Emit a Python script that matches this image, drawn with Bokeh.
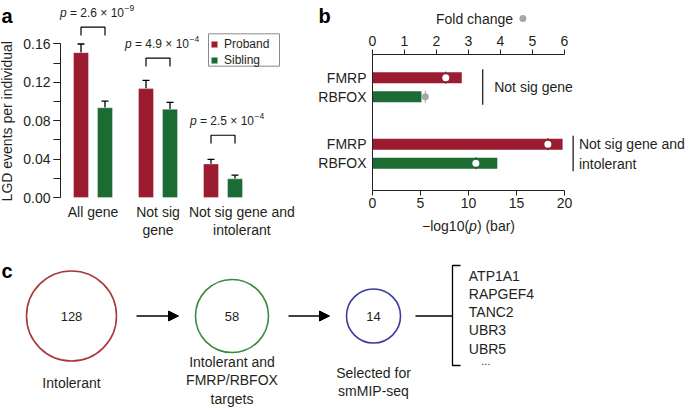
import math
from bokeh.plotting import figure
from bokeh.layouts import column, row
from bokeh.models import (Range1d, LinearAxis, FixedTicker, SingleIntervalTicker,
                          NumeralTickFormatter, ColumnDataSource, Whisker, TeeHead,
                          Label, Legend, LegendItem, Arrow, NormalHead)
from bokeh.embed import file_html
from bokeh.resources import INLINE
from bokeh.core.properties import value

FONT = "Liberation Sans"
INK = "#231f20"
RED = "#9b1c31"
GREEN = "#1b6b33"

# ---------------- data: panel a ----------------
groups_a = ["All gene", "Not sig\ngene", "Not sig gene and\nintolerant"]
proband = [0.151, 0.1135, 0.035]
proband_err = [0.009, 0.0085, 0.0047]
sibling = [0.0935, 0.092, 0.0195]
sibling_err = [0.007, 0.0072, 0.0038]
p_mantissa = ["2.6", "4.9", "2.5"]
p_exponent = ["\u22129", "\u22124", "\u22124"]

# ---------------- data: panel b ----------------
gene_sets = ["Not sig gene", "Not sig gene and\nintolerant"]
targets = ["FMRP", "RBFOX"]
neglog10p = [9.3, 5.1, 19.8, 13.0]      # FMRP, RBFOX per gene set
fold_change = [2.29, 1.65, 5.48, 3.23]

# ---------------- data: panel c ----------------
stage_counts = [128, 58, 14]
stage_captions = ["Intolerant", "Intolerant and\nFMRP/RBFOX\ntargets", "Selected for\nsmMIP-seq"]
selected_genes = ["ATP1A1", "RAPGEF4", "TANC2", "UBR3", "UBR5"]


def base_fig(w, h, xr, yr):
    p = figure(width=w, height=h, output_backend="svg", toolbar_location=None,
               x_range=xr, y_range=yr, x_axis_type=None, y_axis_type=None, min_border=0)
    p.outline_line_color = None
    p.background_fill_color = "white"
    p.border_fill_color = "white"
    return p


def txt(**kw):
    d = dict(text_font=FONT, text_font_size="14px", text_color=INK,
             text_align="center", text_baseline="middle")
    d.update(kw)
    return Label(**d)


# ================= panel a =================
A_W, A_H = 300, 240
AX_X, AX_Y0 = 60, 197          # axis origin inside the figure (px from left / top)
PX_GROUP = 65.0
PX_Y = 959.4
pa = base_fig(A_W, A_H,
              Range1d(-AX_X / PX_GROUP, (A_W - AX_X) / PX_GROUP),
              Range1d(-(A_H - AX_Y0) / PX_Y, AX_Y0 / PX_Y))


def ax_x(px):
    return (px - AX_X) / PX_GROUP


def ax_y(px):
    return (AX_Y0 - px) / PX_Y


dodge = 12 / PX_GROUP
bar_w = 15 / PX_GROUP
xc = [i + 0.5 for i in range(len(groups_a))]
xp = [c - dodge for c in xc]
xs = [c + dodge for c in xc]
r_p = pa.vbar(x=xp, top=proband, width=bar_w, fill_color=RED,
              line_color="white", line_alpha=0.35, line_width=1)
r_s = pa.vbar(x=xs, top=sibling, width=bar_w, fill_color=GREEN,
              line_color="white", line_alpha=0.35, line_width=1)

vals = proband + sibling
errs = proband_err + sibling_err
src_err = ColumnDataSource(dict(x=xp + xs, lo=vals, hi=[v + e for v, e in zip(vals, errs)]))
pa.add_layout(Whisker(base="x", lower="lo", upper="hi", source=src_err, dimension="height",
                      line_color="black", line_width=1.3,
                      upper_head=TeeHead(size=7, line_color="black", line_width=1.3),
                      lower_head=None))

br_top = [0.1775, 0.1453, 0.0649]
leg = 0.0087
pa.multi_line(xs=[[xp[i], xp[i], xs[i], xs[i]] for i in range(3)],
              ys=[[t - leg, t, t, t - leg] for t in br_top],
              line_color="black", line_width=1.2)
ty = [t + 0.0145 for t in br_top]
pa.text(x=xc, y=ty, text=["p"] * 3, x_offset=-33, text_font=value(FONT),
        text_font_style="italic", text_font_size="12px", text_color=INK,
        text_align="left", text_baseline="middle")
pa.text(x=xc, y=ty, text=["= " + m + " \u00d7 10" for m in p_mantissa], x_offset=-23,
        text_font=value(FONT), text_font_size="12px", text_color=INK,
        text_align="left", text_baseline="middle")
pa.text(x=xc, y=ty, text=p_exponent, x_offset=31.5, y_offset=-5, text_font=value(FONT),
        text_font_size="8.5px", text_color=INK, text_align="left", text_baseline="middle")

yax = LinearAxis(fixed_location=0, bounds=(0, 0.1601),
                 ticker=SingleIntervalTicker(interval=0.04, num_minor_ticks=2),
                 formatter=NumeralTickFormatter(format="0.00"),
                 major_tick_out=7, major_tick_in=0, minor_tick_out=7, minor_tick_in=0,
                 major_label_standoff=3, axis_line_color=INK, major_tick_line_color=INK,
                 minor_tick_line_color=INK,
                 major_label_text_font=FONT, major_label_text_font_size="14px",
                 major_label_text_color=INK)
pa.add_layout(yax, "left")

label_pos = [0.5, 1.5, 2.79]
xax = LinearAxis(fixed_location=0, ticker=FixedTicker(ticks=label_pos, minor_ticks=[]),
                 major_label_overrides={p: g for p, g in zip(label_pos, groups_a)},
                 axis_line_color=None, major_tick_line_color=None, minor_tick_line_color=None,
                 major_tick_out=0, major_tick_in=0, major_label_standoff=6,
                 major_label_text_font=FONT, major_label_text_font_size="14px",
                 major_label_text_color=INK, major_label_text_line_height=1.15)
pa.add_layout(xax, "below")

pa.add_layout(txt(x=6, y=0.0795, x_units="screen", y_units="data",
                  text="LGD events per individual", angle=math.pi / 2))
pa.add_layout(txt(x=1, y=A_H - 15, x_units="screen", y_units="screen", text="a",
                  text_align="left", text_baseline="alphabetic", text_font_size="20px",
                  text_font_style="bold", text_color="black"))

# legend frame (drawn as a box) and legend entries
pa.quad(left=[ax_x(208)], right=[ax_x(279)], top=[ax_y(33.3)], bottom=[ax_y(65.7)],
        fill_color="white", line_color="#8a8a8a", line_width=1)
legend = Legend(items=[LegendItem(label="Proband", renderers=[r_p]),
                       LegendItem(label="Sibling", renderers=[r_s])],
                location=(210, A_H - 67), orientation="vertical", padding=3, spacing=2,
                margin=0, glyph_width=8, glyph_height=8, label_height=10, label_width=49,
                label_standoff=6, label_text_font=FONT, label_text_font_size="12px",
                label_text_color=INK, border_line_color=None,
                background_fill_alpha=0)
pa.add_layout(legend)

# ================= panel b =================
B_W, B_H = 385, 240
BX0 = 72                 # x of the -log10(p)=0 line inside the figure
ROW0 = 77.2              # y of the first bar centre inside the figure
PX_P = 9.6
PX_FOLD = 32.0
ROW_PX = 19.0
AXIS_TOP_PX, AXIS_BOT_PX = 53.5, 189.5
GROUP_STRIDE = 3.5
ypos = [g * GROUP_STRIDE + k for g in range(len(gene_sets)) for k in range(len(targets))]


def row_of(px):
    return (px - ROW0) / ROW_PX


pb = base_fig(B_W, B_H,
              Range1d(-BX0 / PX_P, (B_W - BX0) / PX_P),
              Range1d(row_of(B_H), row_of(0)))
pb.extra_x_ranges = {"fold": Range1d(-BX0 / PX_FOLD, (B_W - BX0) / PX_FOLD)}
y_axis_top, y_axis_bot = row_of(AXIS_TOP_PX), row_of(AXIS_BOT_PX)

pb.hbar(y=ypos, left=0, right=neglog10p, height=11 / ROW_PX,
        fill_color=[RED, GREEN] * len(gene_sets), line_color=None)

dot_colors = ["white", "#a6a6a6", "white", "white"]
cap_colors = ["#333333", "#a6a6a6", "#333333", "#333333"]
pb.segment(x0=fold_change, x1=fold_change, y0=[y - 0.32 for y in ypos],
           y1=[y + 0.32 for y in ypos], x_range_name="fold",
           line_color=cap_colors, line_width=1)
pb.scatter(x=fold_change, y=ypos, x_range_name="fold", size=7,
           fill_color=dot_colors, line_color=None)

set_bracket_x = [11.48, 20.9]
set_label_x = [12.68, 21.5]
y_first = [ypos[2 * g] for g in range(len(gene_sets))]
y_last = [ypos[2 * g + 1] for g in range(len(gene_sets))]
pb.segment(x0=set_bracket_x, x1=set_bracket_x, y0=[y - 0.45 for y in y_first],
           y1=[y + 0.43 for y in y_last], line_color=INK, line_width=1.3)
pb.text(x=set_label_x, y=[(a + b) / 2 for a, b in zip(y_first, y_last)], text=gene_sets,
        text_font=value(FONT), text_font_size="14px", text_color=INK,
        text_align="left", text_baseline="middle", text_line_height=1.25)

lax = LinearAxis(fixed_location=0, bounds=(y_axis_top, y_axis_bot),
                 ticker=FixedTicker(ticks=ypos, minor_ticks=[]),
                 major_label_overrides={y: t for y, t in zip(ypos, targets * len(gene_sets))},
                 major_tick_out=0, major_tick_in=0, major_label_standoff=6,
                 axis_line_color=INK, major_label_text_font=FONT,
                 major_label_text_font_size="14px", major_label_text_color=INK)
pb.add_layout(lax, "left")
tax = LinearAxis(x_range_name="fold", fixed_location=y_axis_top, bounds=(0, 6),
                 ticker=SingleIntervalTicker(interval=1, num_minor_ticks=0),
                 major_tick_out=5, major_tick_in=0, major_label_standoff=3,
                 axis_line_color=INK, major_tick_line_color=INK,
                 major_label_text_font=FONT, major_label_text_font_size="14px",
                 major_label_text_color=INK)
pb.add_layout(tax, "above")
bax = LinearAxis(fixed_location=y_axis_bot, bounds=(0, 20),
                 ticker=SingleIntervalTicker(interval=5, num_minor_ticks=0),
                 major_tick_out=5, major_tick_in=0, major_label_standoff=3,
                 axis_line_color=INK, major_tick_line_color=INK,
                 major_label_text_font=FONT, major_label_text_font_size="14px",
                 major_label_text_color=INK)
pb.add_layout(bax, "below")

pb.add_layout(txt(x=174, y=B_H - 18, x_units="screen", y_units="screen", text="Fold change"))
pb.scatter(x=[4.70], y=[row_of(18)], x_range_name="fold", size=7,
           fill_color="#a6a6a6", line_color=None)
pb.add_layout(txt(x=121.5, y=B_H - 225, x_units="screen", y_units="screen",
                  text="\u2212log10(", text_align="left"))
pb.add_layout(txt(x=168.6, y=B_H - 225, x_units="screen", y_units="screen",
                  text="p", text_align="left", text_font_style="italic"))
pb.add_layout(txt(x=176.4, y=B_H - 225, x_units="screen", y_units="screen",
                  text=") (bar)", text_align="left"))
pb.add_layout(txt(x=18, y=B_H - 15, x_units="screen", y_units="screen", text="b",
                  text_align="left", text_baseline="alphabetic", text_font_size="20px",
                  text_font_style="bold", text_color="black"))

# ================= panel c =================
C_W, C_H = 685, 167
pc = base_fig(C_W, C_H, Range1d(0, C_W), Range1d(240 + C_H, 240))

stage_x = [71, 231.5, 373]
stage_y = 315.5
stage_d = [90, 73, 54]
stage_colors = ["#a83a3b", "#3a8a3e", "#3c3c9e"]
caption_y = [382.7, 380.0, 381.5]
pc.ellipse(x=stage_x, y=[stage_y] * 3, width=stage_d, height=stage_d,
           fill_color=None, line_color=stage_colors, line_width=1.6)
pc.text(x=stage_x, y=[stage_y] * 3, text=[str(c) for c in stage_counts],
        text_font=value(FONT), text_font_size="13px", text_color=INK,
        text_align="center", text_baseline="middle")
pc.text(x=stage_x, y=caption_y, text=stage_captions, text_font=value(FONT),
        text_font_size="14px", text_color=INK, text_align="center",
        text_baseline="middle", text_line_height=1.15)

for i in range(len(stage_x) - 1):
    x0 = stage_x[i] + stage_d[i] / 2 + 20
    x1 = stage_x[i + 1] - stage_d[i + 1] / 2 - 17
    pc.add_layout(Arrow(end=NormalHead(size=10, fill_color="black", line_color="black",
                                       line_width=1),
                        x_start=x0, y_start=stage_y, x_end=x1, y_end=stage_y,
                        line_color="black", line_width=1.5))

br_x = 452
gene_x = 468.3
gene_y0 = 275
gene_dy = 18.3
conn_x0 = stage_x[-1] + stage_d[-1] / 2 + 15
pc.multi_line(xs=[[conn_x0, br_x], [br_x + 8, br_x, br_x, br_x + 8]],
              ys=[[stage_y, stage_y], [265, 265, 365, 365]],
              line_color="black", line_width=1.3)
pc.text(x=[gene_x] * len(selected_genes),
        y=[gene_y0 + gene_dy * i for i in range(len(selected_genes))],
        text=selected_genes, text_font=value(FONT), text_font_size="14px",
        text_color=INK, text_align="left", text_baseline="middle")
pc.text(x=[gene_x + 17], y=[gene_y0 + gene_dy * len(selected_genes) - 6], text=["..."],
        text_font=value(FONT), text_font_size="11px", text_color=INK,
        text_align="center", text_baseline="middle")
pc.text(x=[1], y=[270], text=["c"], text_font=value(FONT), text_font_size="20px",
        text_font_style="bold", text_color="black", text_align="left",
        text_baseline="alphabetic")

layout = column(row(pa, pb), pc)
open("out.html", "w").write(file_html(layout, INLINE, "chart"))
